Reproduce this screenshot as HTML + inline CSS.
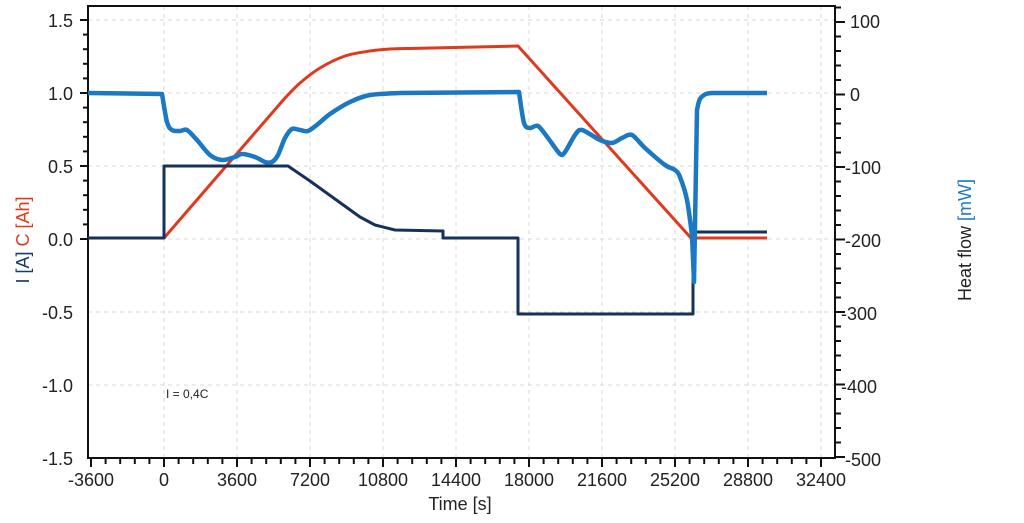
<!DOCTYPE html>
<html><head><meta charset="utf-8"><style>body{margin:0;background:#fff}svg{display:block}text{font-family:"Liberation Sans",sans-serif;fill:#222}</style></head>
<body>
<svg width="1024" height="523" viewBox="0 0 1024 523" xmlns="http://www.w3.org/2000/svg">
<g stroke="#d8d8d8" stroke-dasharray="4,4" stroke-width="1">
<line x1="164" y1="6" x2="164" y2="458"/><line x1="237" y1="6" x2="237" y2="458"/><line x1="310" y1="6" x2="310" y2="458"/><line x1="383" y1="6" x2="383" y2="458"/><line x1="456" y1="6" x2="456" y2="458"/><line x1="529" y1="6" x2="529" y2="458"/><line x1="602" y1="6" x2="602" y2="458"/><line x1="675" y1="6" x2="675" y2="458"/><line x1="748" y1="6" x2="748" y2="458"/><line x1="821" y1="6" x2="821" y2="458"/>
<line x1="88" y1="20" x2="835" y2="20"/><line x1="88" y1="93" x2="835" y2="93"/><line x1="88" y1="166" x2="835" y2="166"/><line x1="88" y1="239" x2="835" y2="239"/><line x1="88" y1="312" x2="835" y2="312"/><line x1="88" y1="385" x2="835" y2="385"/>
</g>
<rect x="88" y="6" width="747" height="452" fill="none" stroke="#111" stroke-width="2"/>
<g id="ticks" stroke="#111" stroke-width="2"></g>
<g font-size="18" text-anchor="end">
<text x="73" y="27">1.5</text><text x="73" y="100">1.0</text><text x="73" y="173">0.5</text><text x="73" y="246">0.0</text><text x="73" y="319">-0.5</text><text x="73" y="392">-1.0</text><text x="73" y="465">-1.5</text>
</g>
<g font-size="18" text-anchor="start">
<text x="850" y="28">100</text><text x="850" y="101">0</text><text x="845" y="174">-100</text><text x="845" y="247">-200</text><text x="841" y="320">-300</text><text x="841" y="393">-400</text><text x="845" y="466">-500</text>
</g>
<g font-size="18" text-anchor="middle">
<text x="91" y="486">-3600</text><text x="164" y="486">0</text><text x="237" y="486">3600</text><text x="310" y="486">7200</text><text x="383" y="486">10800</text><text x="456" y="486">14400</text><text x="529" y="486">18000</text><text x="602" y="486">21600</text><text x="675" y="486">25200</text><text x="748" y="486">28800</text><text x="821" y="486">32400</text>
<text x="460" y="510">Time [s]</text>
</g>
<text x="166" y="398" font-size="12">I = 0,4C</text>
<text transform="translate(29,240) rotate(-90)" font-size="18" text-anchor="middle"><tspan fill="#1b3a66">I [A]</tspan> <tspan fill="#e03a1e">C [Ah]</tspan></text>
<text transform="translate(971,240) rotate(-90)" font-size="18" text-anchor="middle"><tspan fill="#222">Heat flow</tspan> <tspan fill="#1e78c2">[mW]</tspan></text>
<path id="red" fill="none" stroke="#e03a1e" stroke-width="3" stroke-linejoin="round"/>
<polyline fill="none" stroke="#17325a" stroke-width="3" stroke-linejoin="round" points="88,238 164,238 164,166 288,166 310,181 335,199 360,217 375,225 395,230 443,231 443,238 518,238 518,314 693,314 693,232 767,232"/>
<path id="blue" fill="none" stroke="#1b78c2" stroke-width="4.5" stroke-linejoin="round"/>
</svg>
<script>
function sm(pts,t){var d='';for(var i=0;i<pts.length-1;i++){var p0=pts[i>0?i-1:i],p1=pts[i],p2=pts[i+1],p3=pts[i+2<pts.length?i+2:i+1];
var c1x=p1[0]+(p2[0]-p0[0])*t,c1y=p1[1]+(p2[1]-p0[1])*t,c2x=p2[0]-(p3[0]-p1[0])*t,c2y=p2[1]-(p3[1]-p1[1])*t;d+=' C'+c1x+','+c1y+' '+c2x+','+c2y+' '+p2[0]+','+p2[1];}return d;}
function P(s){return s.trim().split(/\s+/).map(function(a){return a.split(',').map(Number)});}
var b='M88,93 L162,94'+sm(P("162,94 167,122 172,130 180,131 187,130 197,140 210,155 222,160 235,157 242,154 255,157 265,162 272,162 278,155 285,138 292,129 300,130 308,131 318,124 330,114 350,102 370,95 400,93"),0.15)
+' L519,92'+sm(P("519,92 524,123 530,128 538,126 548,138 560,154 565,152 575,135 582,130 600,140 612,143 622,138 632,135 645,148 665,165 675,170 680,177 687,200 692,235"),0.15)
+' L694,282 L697,110'+sm(P("697,110 700,99 706,94 712,93"),0.2)+' L767,93';
document.getElementById('blue').setAttribute('d',b);
document.getElementById('red').setAttribute('d','M88,238 L164,238 L285,98'+sm(P("285,98 300,83 320,68 345,56 370,51 390,49 410,48.5"),0.15)+' L518,46 L691,238 L767,238');
var g=document.getElementById('ticks'),s='';
for(var i=0;i<=15;i++){var y=20+i*14.6;if(y>459)break;var L=(i%5==0)?8:5;s+='<line x1="'+(88-L)+'" y1="'+y+'" x2="88" y2="'+y+'"/>';}
for(var i=-1;i<=30;i++){var y=22+i*14.5;if(y<6||y>459)continue;var L=(i%5==0)?10:6;s+='<line x1="835" y1="'+y+'" x2="'+(835+L)+'" y2="'+y+'"/>';}
for(var i=0;i<=50;i++){var x=91+i*14.6;if(x>835)break;var L=(i%5==0)?9:6;s+='<line x1="'+x+'" y1="458" x2="'+x+'" y2="'+(458+L)+'"/>';}
g.innerHTML=s;
</script>
</body></html>
